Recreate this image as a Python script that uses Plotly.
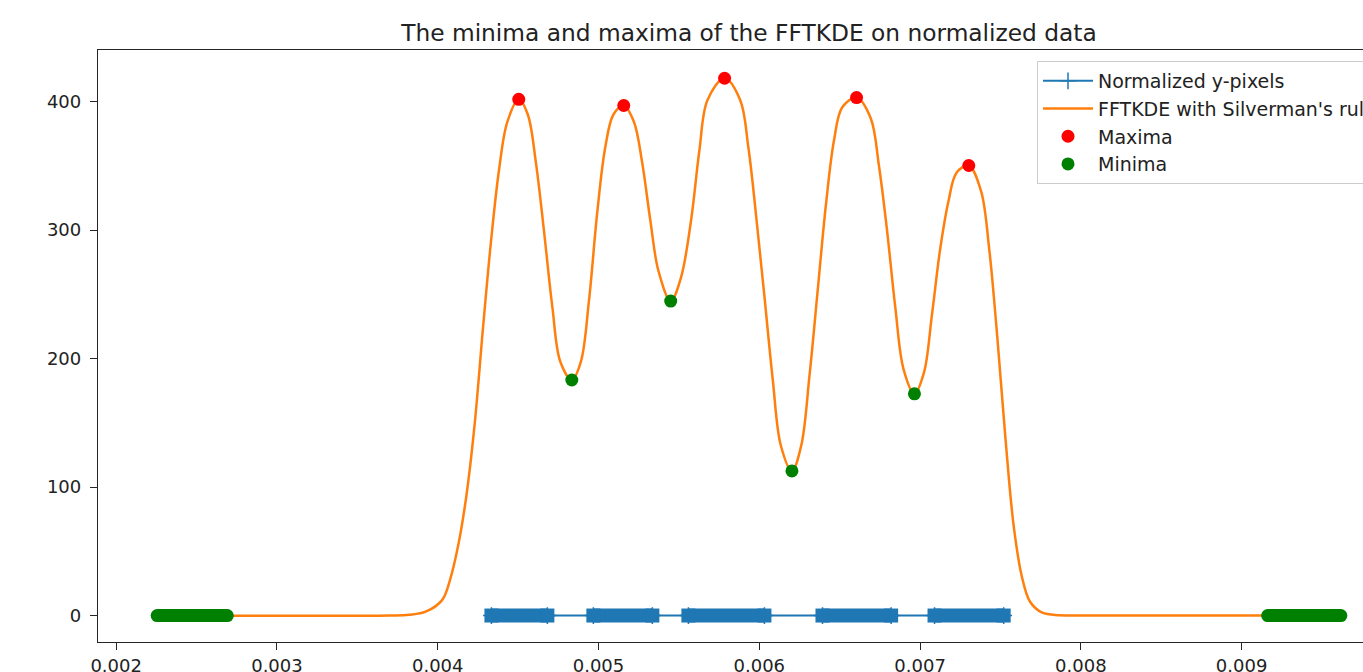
import plotly.graph_objects as go

# ---- data ----
kde_x = [0.002255, 0.00370, 0.003823, 0.003925, 0.004027, 0.004077, 0.004128, 0.004178, 0.004230,
         0.004281, 0.004331, 0.004382, 0.004433, 0.004504, 0.004560, 0.004610, 0.004661, 0.004713,
         0.004763, 0.004834, 0.004890, 0.004941, 0.004992, 0.005042, 0.005093, 0.005157, 0.005220,
         0.005271, 0.005322, 0.005373, 0.005449, 0.005512, 0.005576, 0.005627, 0.005678, 0.005784,
         0.005881, 0.005932, 0.005983, 0.006032, 0.006084, 0.006134, 0.006203, 0.006261, 0.006312,
         0.006362, 0.006414, 0.006465, 0.006516, 0.006605, 0.006693, 0.006744, 0.006795, 0.006846,
         0.006897, 0.006965, 0.007024, 0.007074, 0.007125, 0.007176, 0.007227, 0.007303, 0.007379,
         0.007430, 0.007480, 0.007531, 0.007582, 0.007633, 0.007684, 0.007760, 0.007868, 0.00800,
         0.009617]
kde_y = [0, 0, 0.6, 3, 12, 28, 55, 93, 149.3,
         223, 290.8, 347.5, 384.2, 401.7, 389.9, 353, 299.2, 240,
         197.4, 183.3, 197.4, 245.5, 313.5, 364.4, 389.9, 396.9, 384.2,
         353, 307.8, 268.1, 244.7, 262.6, 307.8, 361.5, 401.2, 418.1,
         401.2, 364.4, 307.8, 248.3, 183.3, 132.3, 112.5, 132.3, 186.4,
         251.2, 319.1, 370, 395.5, 403.1, 387, 350.2, 299.2, 239.8,
         191.8, 172.5, 189, 234.2, 285.2, 322, 344.6, 350.2, 330.4,
         285.2, 217.2, 138.1, 70, 30.4, 10.7, 2.2, 0.3, 0,
         0]

maxima_x = [0.004504, 0.005157, 0.005784, 0.006605, 0.007303]
maxima_y = [401.7, 396.9, 418.1, 403.1, 350.2]

minima_x = [0.004834, 0.005449, 0.006203, 0.006965]
minima_y = [183.3, 244.7, 112.5, 172.5]

# flat regions of the KDE where minima are densely detected (first, last)
flat_min_first = [0.002255, 0.009162]
flat_min_last = [0.002691, 0.009617]

# clusters of normalized y-pixel values (first, last value of each cluster)
pix_first = [0.004334, 0.004968, 0.005559, 0.006393, 0.007090]
pix_last = [0.004682, 0.005335, 0.006032, 0.006820, 0.007520]

x_ticks = [0.002, 0.003, 0.004, 0.005, 0.006, 0.007, 0.008, 0.009]
y_ticks = [0, 100, 200, 300, 400]

# ---- derived series ----
pix_x = []
for s, e in zip(pix_first, pix_last):
    pix_x += [s, e]
pix_y = [0] * len(pix_x)

pix_band_x, pix_band_y = [], []
for s, e in zip(pix_first, pix_last):
    pix_band_x += [s, e, None]
    pix_band_y += [0, 0, None]

flat_x, flat_y = [], []
for s, e in zip(flat_min_first, flat_min_last):
    flat_x += [s, e, None]
    flat_y += [0, 0, None]

BLUE = "#1f77b4"
ORANGE = "#ff7f0e"
RED = "#ff0000"
GREEN = "#008000"
FONT = "DejaVu Sans"
TXT = "#222222"

fig = go.Figure()
fig.add_trace(go.Scatter(x=pix_x, y=pix_y, mode="lines+markers", name="Normalized y-pixels",
                         legendgroup="pix",
                         line=dict(color=BLUE, width=2),
                         marker=dict(symbol="cross-thin", size=12, color=BLUE,
                                     line=dict(color=BLUE, width=1.5))))
# dense clusters of "+" markers render as solid bars
fig.add_trace(go.Scatter(x=pix_band_x, y=pix_band_y, mode="lines+markers", showlegend=False,
                         legendgroup="pix", hoverinfo="skip",
                         line=dict(color=BLUE, width=14),
                         marker=dict(symbol="square", size=14, color=BLUE, line=dict(width=0))))
fig.add_trace(go.Scatter(x=kde_x, y=kde_y, mode="lines", name="FFTKDE with Silverman's rule",
                         line=dict(color=ORANGE, width=2.5, shape="spline", smoothing=1.0)))
fig.add_trace(go.Scatter(x=maxima_x, y=maxima_y, mode="markers", name="Maxima",
                         marker=dict(color=RED, size=13, line=dict(width=0))))
fig.add_trace(go.Scatter(x=flat_x, y=flat_y, mode="lines+markers", showlegend=False,
                         legendgroup="min", hoverinfo="skip",
                         line=dict(color=GREEN, width=13),
                         marker=dict(color=GREEN, size=13, line=dict(width=0))))
fig.add_trace(go.Scatter(x=minima_x, y=minima_y, mode="markers", name="Minima",
                         legendgroup="min",
                         marker=dict(color=GREEN, size=13, line=dict(width=0))))

fig.update_layout(
    width=1410, height=672,
    margin=dict(l=98, r=10, t=50, b=30, autoexpand=False),
    paper_bgcolor="white", plot_bgcolor="white",
    font=dict(family=FONT, size=18, color=TXT),
    title=dict(text="The minima and maxima of the FFTKDE on normalized data",
               x=0.5, xref="paper", xanchor="center",
               y=1 - 33 / 672, yref="container", yanchor="middle",
               font=dict(family=FONT, size=23.3, color=TXT)),
    legend=dict(x=0.7212, y=0.9814, xanchor="left", yanchor="top",
                bgcolor="rgba(255,255,255,0.8)", bordercolor="#cccccc", borderwidth=1,
                font=dict(family=FONT, size=19, color=TXT), traceorder="normal",
                itemwidth=50),
    showlegend=True,
)
fig.update_xaxes(range=[0.001887, 0.009985], tickvals=x_ticks,
                 ticktext=[f"{v:.3f}" for v in x_ticks], automargin=False,
                 showgrid=False, zeroline=False, showline=True, mirror=True,
                 linecolor="#262626", linewidth=1.3,
                 ticks="outside", ticklen=7, tickwidth=1.3, tickcolor="#262626",
                 tickfont=dict(family=FONT, size=18, color=TXT))
fig.update_yaxes(range=[-20.6, 440.1], tickvals=y_ticks, automargin=False,
                 showgrid=False, zeroline=False, showline=True, mirror=False,
                 linecolor="#262626", linewidth=1.3,
                 ticks="outside", ticklen=7, tickwidth=1.3, tickcolor="#262626",
                 ticklabelstandoff=5,
                 tickfont=dict(family=FONT, size=18, color=TXT))

fig.write_html("out.html",
               post_script="document.documentElement.style.overflow='hidden';"
                           "document.body.style.overflow='hidden';"
                           "document.body.style.margin='0';")
